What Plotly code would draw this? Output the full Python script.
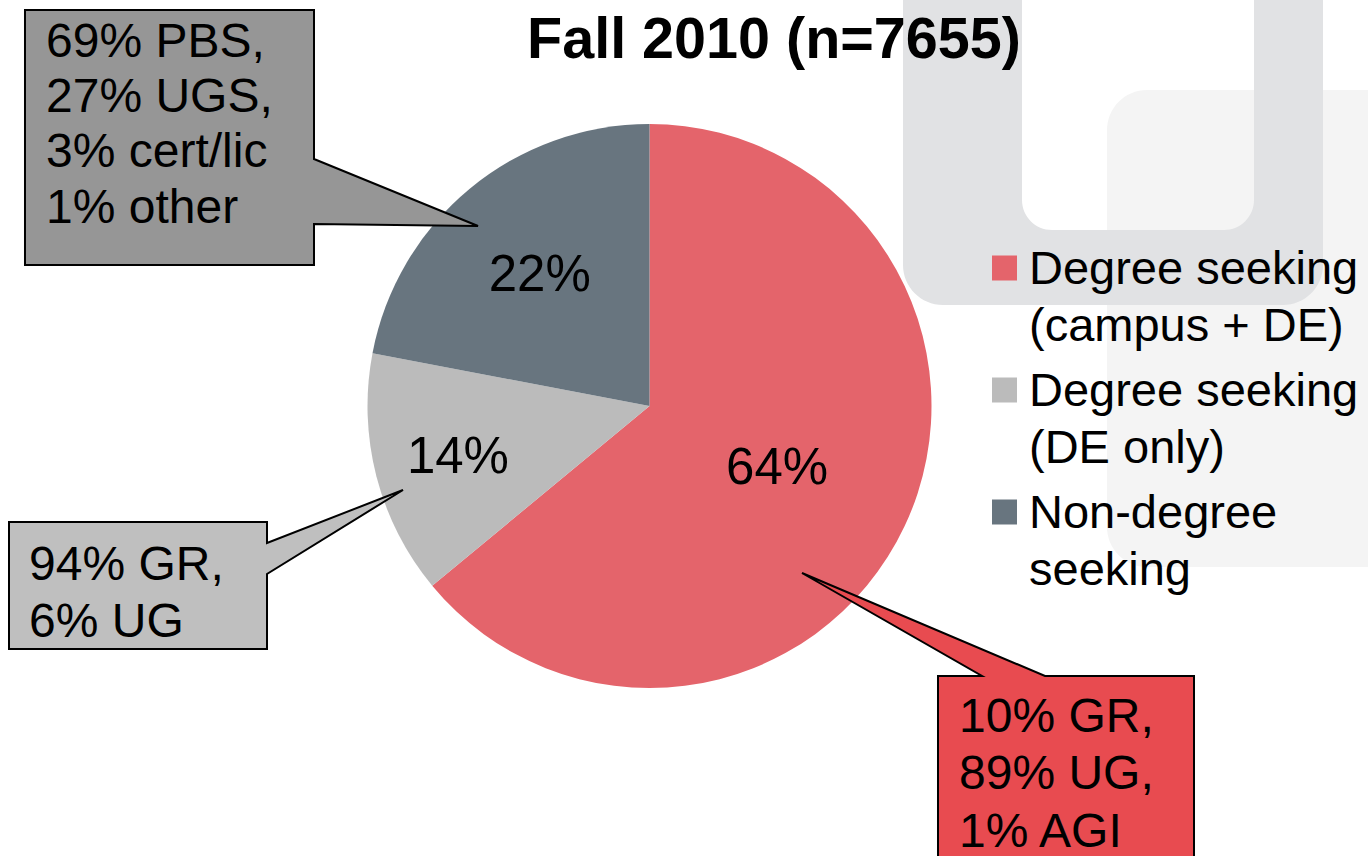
import plotly.graph_objects as go

W, H = 1368, 856

# ---------------- data ----------------
categories = ["Degree seeking (campus + DE)", "Degree seeking (DE only)", "Non-degree seeking"]
legend_lines = [["Degree seeking", "(campus + DE)"],
                ["Degree seeking", "(DE only)"],
                ["Non-degree", "seeking"]]
shares = [64, 14, 22]
slice_colors = ["#E4646B", "#BBBBBB", "#68757F"]
title_text = "Fall 2010 (n=7655)"

callout_dark = ["69% PBS,", "27% UGS,", "3% cert/lic", "1% other"]
callout_light = ["94% GR,", "6% UG"]
callout_red = ["10% GR,", "89% UG,", "1% AGI"]
callout_fills = ["#969696", "#BFBFBF", "#E84B50"]

FONT = "Liberation Sans, Arial, sans-serif"


def px(x):
    return x / W


def py(y):
    return 1 - y / H


def path_from(points):
    s = ""
    for cmd, pts in points:
        s += cmd
        s += " ".join(f"{px(a):.5f},{py(b):.5f}" for a, b in pts) + " "
    return s


def rrect(x0, y0, x1, y1, r):
    k = 0.5523 * r
    pts = [
        ("M", [(x0 + r, y0)]),
        ("L", [(x1 - r, y0)]),
        ("C", [(x1 - r + k, y0), (x1, y0 + r - k), (x1, y0 + r)]),
        ("L", [(x1, y1 - r)]),
        ("C", [(x1, y1 - r + k), (x1 - r + k, y1), (x1 - r, y1)]),
        ("L", [(x0 + r, y1)]),
        ("C", [(x0 + r - k, y1), (x0, y1 - r + k), (x0, y1 - r)]),
        ("L", [(x0, y0 + r)]),
        ("C", [(x0, y0 + r - k), (x0 + r - k, y0), (x0 + r, y0)]),
    ]
    return path_from(pts) + "Z "


def poly(coords):
    pts = [("M", [coords[0]])] + [("L", [c]) for c in coords[1:]]
    return path_from(pts) + "Z"


fig = go.Figure()

# pie: centre (649.5, 406), radius 282 px
cx, cy, R = 649.5, 406, 282
fig.add_trace(go.Pie(
    labels=categories,
    values=shares,
    sort=False,
    direction="clockwise",
    rotation=0,
    marker=dict(colors=slice_colors, line=dict(width=0)),
    textinfo="percent",
    textposition="inside",
    insidetextorientation="horizontal",
    textfont=dict(family=FONT, size=51, color="black"),
    hoverinfo="label+percent",
    showlegend=False,
    domain=dict(x=[px(cx - R), px(cx + R)], y=[py(cy + R), py(cy - R)]),
))

shapes = []
# decorative background
shapes.append(dict(type="path", xref="paper", yref="paper", layer="below",
                   path=rrect(1107, 90, 1480, 567, 40),
                   fillcolor="#F4F4F4", line=dict(width=0)))
shapes.append(dict(type="path", xref="paper", yref="paper", layer="below",
                   path=rrect(903, -80, 1323, 305, 40) + rrect(1022, -80, 1254, 230, 30),
                   fillrule="evenodd",
                   fillcolor="#E1E2E4", line=dict(width=0)))

# callouts
callout_paths = [
    poly([(25, 10), (314, 10), (314, 159), (478, 226), (314, 224), (314, 265), (25, 265)]),
    poly([(9, 522), (267, 522), (267, 543), (403, 490), (267, 574), (267, 649), (9, 649)]),
    poly([(938, 676), (982, 676), (802, 573), (1045, 676), (1194, 676), (1194, 900), (938, 900)]),
]
for p, c in zip(callout_paths, callout_fills):
    shapes.append(dict(type="path", xref="paper", yref="paper", layer="above",
                       path=p, fillcolor=c, line=dict(color="black", width=2)))

# legend swatches
legend_centers = [268, 390, 512]
for yc, col in zip(legend_centers, slice_colors):
    shapes.append(dict(type="rect", xref="paper", yref="paper", layer="above",
                       x0=px(992), x1=px(1017), y0=py(yc + 12.5), y1=py(yc - 12.5),
                       fillcolor=col, line=dict(width=0)))

annotations = []


def add_lines(lines, x, y0, step, size):
    for i, t in enumerate(lines):
        annotations.append(dict(text=t, x=px(x), y=py(y0 + i * step), xref="paper", yref="paper",
                                xanchor="left", yanchor="middle", showarrow=False,
                                font=dict(family=FONT, size=size, color="black")))


add_lines(callout_dark, 44, 40, 55.5, 48)
add_lines(callout_light, 27, 563.5, 56.5, 48)
add_lines(callout_red, 957, 715, 57.5, 48)
for yc, lines in zip(legend_centers, legend_lines):
    add_lines(lines, 1027, yc - 1, 57, 47)

fig.update_layout(
    width=W, height=H, autosize=False,
    margin=dict(l=0, r=0, t=0, b=0),
    paper_bgcolor="white", plot_bgcolor="white",
    title=dict(text="<b>" + title_text + "</b>", x=px(774), y=py(38),
               xanchor="center", yanchor="middle", xref="paper", yref="paper",
               font=dict(family=FONT, size=57.5, color="black")),
    shapes=shapes,
    annotations=annotations,
    showlegend=False,
)

# remove the default 8px page margin so the figure fills the window exactly
fig.write_html("out.html", config={"displayModeBar": False},
               post_script="document.body.style.margin='0';")
